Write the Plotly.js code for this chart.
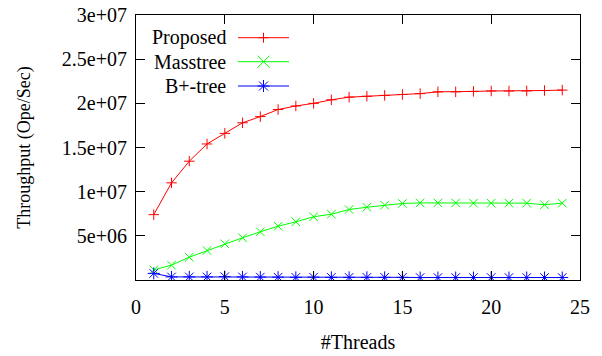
<!DOCTYPE html>
<html>
<head>
<meta charset="utf-8">
<script src="https://cdn.plot.ly/plotly-3.0.1.min.js"></script>
<style>
html,body{margin:0;padding:0;background:#fff;}
#chart{width:602px;height:356px;}
</style>
</head>
<body>
<div id="chart"></div>
<script>
// ---- data ----
const threads = [1,2,3,4,5,6,7,8,9,10,11,12,13,14,15,16,17,18,19,20,21,22,23,24];
const proposed = [7.4e6,11.0e6,13.45e6,15.4e6,16.6e6,17.8e6,18.5e6,19.3e6,19.7e6,20.0e6,20.4e6,20.7e6,20.8e6,20.9e6,21.0e6,21.1e6,21.3e6,21.3e6,21.35e6,21.4e6,21.4e6,21.4e6,21.45e6,21.5e6];
const masstree = [1.15e6,1.68e6,2.58e6,3.34e6,4.1e6,4.78e6,5.46e6,6.09e6,6.59e6,7.16e6,7.45e6,7.98e6,8.24e6,8.47e6,8.66e6,8.73e6,8.73e6,8.73e6,8.7e6,8.7e6,8.7e6,8.7e6,8.52e6,8.7e6];
const bplustree = [0.75e6,0.35e6,0.35e6,0.35e6,0.38e6,0.35e6,0.33e6,0.32e6,0.3e6,0.32e6,0.3e6,0.3e6,0.3e6,0.3e6,0.3e6,0.28e6,0.28e6,0.28e6,0.28e6,0.28e6,0.28e6,0.28e6,0.28e6,0.28e6];
const seriesNames = ["Proposed","Masstree","B+-tree"];
const seriesColors = ["#ff0000","#00ff00","#0000ff"];
const xTickVals = [0,5,10,15,20,25];
const yTickVals = [5e6,1e7,1.5e7,2e7,2.5e7,3e7];
const yTickText = ["5e+06","1e+07","1.5e+07","2e+07","2.5e+07","3e+07"];

const FONT = "Liberation Serif";
const symbols = ["cross-thin-open","x-thin-open","asterisk-open"];
const sizes = [7.5,8.5,10];
const allY = [proposed, masstree, bplustree];

const traces = allY.map((ys,i)=>({
  x: threads, y: ys, type:'scatter', mode:'lines+markers', name: seriesNames[i],
  line:{color:seriesColors[i], width:1},
  marker:{symbol:symbols[i], size:sizes[i], color:seriesColors[i], line:{color:seriesColors[i], width:1}},
  showlegend:false
}));

// custom gnuplot-style legend (text right, sample on the right)
const plotL=136, plotR=580, plotT=15, plotB=280;
const W=plotR-plotL, H=plotB-plotT;
const px=(x)=>(x-plotL)/W, py=(y)=>(plotB-y)/H;
const rowsY=[37.7,61.7,86];
const annotations=[], shapes=[];
seriesNames.forEach((n,i)=>{
  annotations.push({xref:'paper',yref:'paper',x:px(228),y:py(rowsY[i]),text:n,showarrow:false,xanchor:'right',yanchor:'middle',font:{family:FONT,size:20,color:'#000'}});
  shapes.push({type:'line',xref:'paper',yref:'paper',x0:px(238),x1:px(289),y0:py(rowsY[i]),y1:py(rowsY[i]),line:{color:seriesColors[i],width:1}});
  const cx=px(263.5), cy=py(rowsY[i]);
  const seg=(x0,y0,x1,y1)=>shapes.push({type:'line',xref:'paper',yref:'paper',xsizemode:'pixel',ysizemode:'pixel',xanchor:cx,yanchor:cy,x0:x0,y0:y0,x1:x1,y1:y1,line:{color:seriesColors[i],width:1}});
  if(i===0){seg(-5,0,5,0);seg(0,-5,0,5);}
  if(i===1){seg(-6,-6,6,6);seg(-6,6,6,-6);}
  if(i===2){seg(-6,0,6,0);seg(0,-6,0,6);seg(-4.5,-4.5,4.5,4.5);seg(-4.5,4.5,4.5,-4.5);}
});

const layout = {
  width:602, height:356,
  margin:{l:plotL, r:602-plotR, t:plotT, b:356-plotB},
  paper_bgcolor:'#fff', plot_bgcolor:'#fff',
  font:{family:FONT, size:20, color:'#000'},
  showlegend:false,
  xaxis:{range:[0,25], tickvals:xTickVals, ticks:'inside', ticklen:9, tickcolor:'#000', tickwidth:1,
    showline:true, linecolor:'#000', linewidth:1, mirror:'allticks', showgrid:false, zeroline:false,
    tickfont:{family:FONT,size:20,color:'#000'}, ticklabelstandoff:9,
    title:{text:'#Threads', font:{family:FONT,size:20,color:'#000'}, standoff:17}},
  yaxis:{range:[0,3e7], tickvals:yTickVals, ticktext:yTickText, ticks:'inside', ticklen:9, tickcolor:'#000', tickwidth:1,
    showline:true, linecolor:'#000', linewidth:1, mirror:'allticks', showgrid:false, zeroline:false,
    tickfont:{family:FONT,size:20,color:'#000'}, ticklabelstandoff:4,
    title:{text:'Throughput (Ope/Sec)', font:{family:FONT,size:18,color:'#000'}, standoff:26}},
  annotations:annotations, shapes:shapes
};
Plotly.newPlot('chart', traces, layout, {displayModeBar:false, staticPlot:true});
</script>
</body>
</html>
